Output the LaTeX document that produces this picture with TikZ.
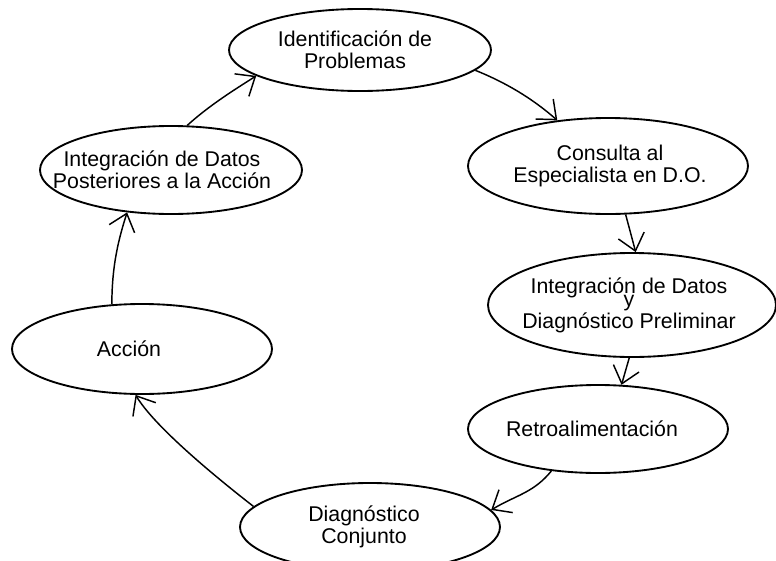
\documentclass[tikz,border=0pt]{standalone}
\usepackage{fontspec}
\setmainfont{Liberation Sans}
\usetikzlibrary{shapes.geometric,arrows.meta}

\begin{document}
\begin{tikzpicture}[x=.75pt,y=-.75pt,
  etapa/.style={draw,ellipse,line width=1.4pt,inner sep=0pt},
  rotulo/.style={font=\fontsize{16}{16.5}\selectfont,align=center},
  flecha/.style={line width=1.1pt,-{Straight Barb[length=12pt,width=20pt]}}]
\clip (0,0) rectangle (776,561);
\node[etapa,minimum width=196.5pt,minimum height=61.5pt,label={[rotulo,xshift=-3.75pt]center:{Identificación de\\Problemas}}] (ident) at (360,50) {};
\node[etapa,minimum width=196.5pt,minimum height=66pt,label={[rotulo,xshift=-6.75pt]center:{Integración de Datos\\Posteriores a la Acción}}] (post) at (171,170) {};
\node[etapa,minimum width=210pt,minimum height=72pt,label={[rotulo,xshift=1.5pt]center:{Consulta al\\Especialista en D.O.}}] (consulta) at (608,166) {};
\node[etapa,minimum width=216pt,minimum height=78pt,label={[rotulo,xshift=-2.25pt]center:{Integración de Datos\\[-6.75pt]y\\Diagnóstico Preliminar}}] (prelim) at (632,305) {};
\node[etapa,minimum width=195pt,minimum height=66pt,label={[rotulo,xshift=-4.5pt]center:Retroalimentación}] (retro) at (598,429) {};
\node[etapa,minimum width=195pt,minimum height=66pt,label={[rotulo,xshift=-4.5pt]center:{Diagnóstico\\Conjunto}}] (diag) at (370,527) {};
\node[etapa,minimum width=195pt,minimum height=67.5pt,label={[rotulo,xshift=-9.75pt]center:Acción}] (accion) at (142,349) {};
\draw[flecha] (post.70) .. controls +(22,-20) and +(-22,14) .. (ident.194);
\draw[flecha] (ident.-10) .. controls +(30,12) and +(-25,-22) .. (consulta.138);
\draw[flecha] (consulta.-70) -- (prelim.86);
\draw[flecha] (prelim.-93) -- (retro.62);
\draw[flecha] (retro.222) .. controls +(-18,22) and +(25,-15) .. (diag.8);
\draw[flecha] (diag.170) .. controls +(-45,-35) and +(18,30) .. (accion.262);
\draw[flecha] (accion.124) .. controls +(0,-40) and +(-8,25) .. (post.224);
\end{tikzpicture}
\end{document}
